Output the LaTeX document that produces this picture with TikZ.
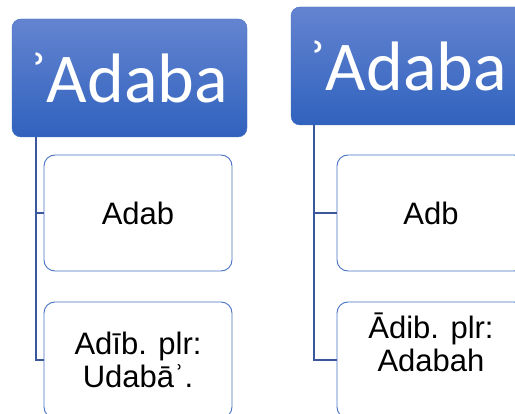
\documentclass[tikz,border=0pt]{standalone}
\usepackage{fontspec}
\setmainfont{Liberation Sans}
\newfontfamily\headfont{Carlito}
\usetikzlibrary{positioning}

\definecolor{headtop}{RGB}{100,132,208}
\definecolor{headbot}{RGB}{48,98,190}
\definecolor{leafline}{RGB}{72,114,196}
\definecolor{connline}{RGB}{60,88,156}

\begin{document}
\begin{tikzpicture}[x=1pt,y=-1pt,
    head node/.style={rectangle,rounded corners=9pt,minimum width=235pt,minimum height=118pt,
      top color=headtop,bottom color=headbot,draw=headbot!70!headtop,text=white,
      font=\headfont\fontsize{70}{78}\selectfont},
    leaf node/.style={rectangle,rounded corners=11pt,draw=leafline,line width=0.9pt,fill=white,
      minimum width=188pt,minimum height=116pt,align=center,font=\fontsize{31}{33}\selectfont},
    conn/.style={draw=connline,line width=1.4pt}]

  \clip (0,0) rectangle (515,414);

  % left tree
  \node[head node] (lh) at (129.5,78) {ʾAdaba};
  \node[leaf node] (la) at (138,213) {Adab};
  \node[leaf node] (lb) at (138,360) {Adīb. plr:\\Udabāʾ.};
  \coordinate (lt) at ([xshift=24pt]lh.south west);

  % right tree
  \node[head node] (rh) at (408.5,66) {ʾAdaba};
  \node[leaf node] (ra) at (431,213) {Adb};
  \node[leaf node] (rb) at (431,360) {Ādib. plr:\\Adabah\\[3pt]};
  \coordinate (rt) at ([xshift=23pt]rh.south west);

  \path[conn]
    (lt) |- (la.west)
    (lt) |- (lb.west)
    (rt) |- (ra.west)
    (rt) |- (rb.west);
\end{tikzpicture}
\end{document}
